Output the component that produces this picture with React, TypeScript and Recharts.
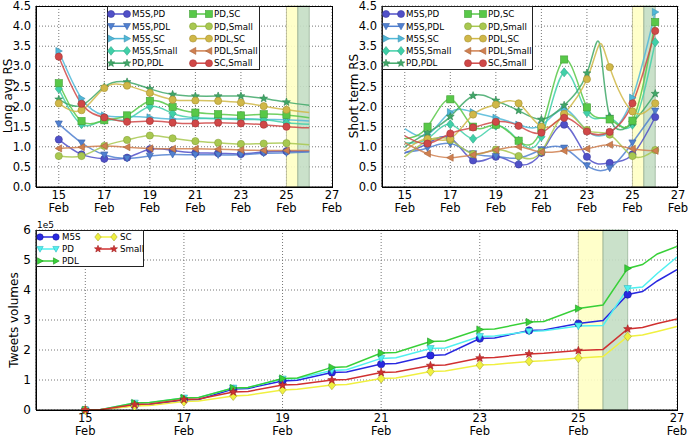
import React from "react";
import { LineChart, Line, XAxis, YAxis, ReferenceArea, CartesianGrid } from "recharts";

// days shown on the two upper panels
const days = [15, 16, 17, 18, 19, 20, 21, 22, 23, 24, 25, 26];
const dayTicks = [15, 17, 19, 21, 23, 25, 27];
const rsTicks = [0, 0.5, 1, 1.5, 2, 2.5, 3, 3.5, 4, 4.5];
const volTicks = [0, 1, 2, 3, 4, 5, 6];

// Long avg RS
const longM5sPd = [1.18, 0.81, 0.7, 0.73, 0.94, 0.91, 0.85, 0.84, 0.82, 0.87, 0.89, 0.89];
const longM5sPdl = [1.57, 1.1, 0.8, 0.71, 0.77, 0.81, 0.8, 0.8, 0.8, 0.84, 0.85, 0.87];
const longM5sSc = [3.38, 2.2, 1.78, 1.75, 1.73, 1.69, 1.7, 1.7, 1.7, 1.68, 1.67, 1.64];
const longM5sSmall = [2.44, 1.56, 1.66, 1.68, 2.0, 1.83, 1.72, 1.7, 1.68, 1.67, 1.6, 1.56];
const longPdPdl = [2.18, 2.03, 2.49, 2.61, 2.44, 2.3, 2.26, 2.26, 2.26, 2.2, 2.11, 2.03];
const longPdSc = [2.58, 1.64, 1.66, 1.78, 2.14, 1.99, 1.85, 1.81, 1.78, 1.81, 1.79, 1.72];
const longPdSmall = [0.77, 0.77, 1.02, 1.17, 1.28, 1.21, 1.14, 1.1, 1.07, 1.08, 1.09, 1.05];
const longPdlSc = [2.08, 1.91, 2.46, 2.52, 2.34, 2.17, 2.15, 2.14, 2.1, 2.01, 1.92, 1.85];
const longPdlSmall = [0.96, 0.99, 1.02, 0.99, 0.96, 0.95, 0.95, 0.94, 0.92, 0.91, 0.91, 0.91];
const longScSmall = [3.24, 2.07, 1.73, 1.62, 1.64, 1.6, 1.58, 1.6, 1.58, 1.55, 1.5, 1.47];

// Short term RS
const shortM5sPd = [0.85, 1.08, 1.22, 0.66, 0.75, 0.56, 0.85, 1.55, 0.75, 0.6, 0.81, 1.74];
const shortM5sPdl = [0.85, 0.97, 1.08, 0.83, 0.76, 0.72, 0.93, 0.97, 0.53, 0.47, 1.1, 1.89];
const shortM5sSc = [1.45, 1.3, 1.86, 1.86, 1.72, 1.55, 1.53, 1.93, 1.4, 1.35, 2.22, 4.35];
const shortM5sSmall = [1.1, 1.2, 1.56, 1.2, 1.52, 1.15, 1.25, 2.85, 1.85, 1.72, 1.55, 3.6];
const shortPdPdl = [1.0, 1.35, 1.75, 2.27, 2.15, 1.9, 1.68, 2.03, 2.83, 1.75, 1.6, 2.32];
const shortPdSc = [1.2, 1.5, 2.18, 1.5, 1.55, 1.15, 1.45, 3.17, 1.98, 1.68, 1.65, 4.1];
const shortPdSmall = [0.75, 1.15, 1.17, 0.82, 0.93, 0.77, 0.88, 1.8, 1.42, 1.3, 0.77, 0.92];
const shortPdlSc = [0.9, 1.2, 1.2, 1.8, 2.05, 2.08, 1.5, 1.82, 2.68, 2.98, 1.88, 2.08];
const shortPdlSmall = [1.1, 0.83, 0.73, 0.8, 0.92, 1.0, 0.87, 0.9, 0.95, 1.05, 0.95, 0.9];
const shortScSmall = [1.27, 1.08, 1.33, 1.48, 1.62, 1.52, 1.35, 1.72, 1.38, 1.37, 2.08, 3.88];
// peak between the 23 and 24 points
const shortPeakDay = 23.55;
const shortPeakPdPdl = 3.57;
const shortPeakPdlSc = 3.55;

// Tweets volumes (x1e5), read at each day and where the curve starts to climb
const volDays = [15, 15.3, 16, 16.3, 17, 17.3, 18, 18.3, 19, 19.3, 20, 20.3, 21, 21.3, 22, 22.3, 23, 23.3, 24, 24.3, 25, 25.5, 26, 26.3, 26.6, 27];
const volM5s = [0, 0.01, 0.15, 0.17, 0.33, 0.35, 0.7, 0.72, 0.97, 0.99, 1.25, 1.27, 1.53, 1.55, 1.82, 1.84, 2.38, 2.4, 2.65, 2.67, 2.88, 2.98, 3.85, 3.95, 4.3, 4.68];
const volPd = [0, 0.01, 0.23, 0.24, 0.4, 0.42, 0.73, 0.75, 1.03, 1.05, 1.32, 1.34, 1.72, 1.74, 2.05, 2.07, 2.45, 2.47, 2.62, 2.64, 2.8, 2.82, 4.05, 4.1, 4.55, 5.1];
const volPdl = [0, 0.01, 0.23, 0.25, 0.4, 0.42, 0.73, 0.75, 1.05, 1.07, 1.42, 1.44, 1.9, 1.92, 2.28, 2.3, 2.68, 2.7, 2.93, 2.95, 3.38, 3.5, 4.72, 4.85, 5.2, 5.45];
const volSc = [0, 0.01, 0.13, 0.15, 0.28, 0.3, 0.47, 0.49, 0.67, 0.69, 0.83, 0.85, 1.05, 1.07, 1.28, 1.3, 1.5, 1.52, 1.62, 1.64, 1.73, 1.78, 2.45, 2.5, 2.62, 2.78];
const volSmall = [0, 0.01, 0.18, 0.2, 0.35, 0.37, 0.6, 0.62, 0.83, 0.85, 1.0, 1.02, 1.25, 1.27, 1.48, 1.5, 1.73, 1.75, 1.87, 1.89, 1.98, 2.02, 2.7, 2.75, 2.88, 3.03];

const FONT = "DejaVu Sans, Bitstream Vera Sans, sans-serif";

type Shape = "circle" | "tdown" | "tright" | "tleft" | "diamond" | "star" | "square";
type Series = { key: string; name: string; values: number[]; color: string; edge: string; marker: Shape };

const longSeries: Series[] = [
  { key: "a", name: "M5S,PD", values: longM5sPd, color: "#5050c8", edge: "#3a3aa0", marker: "circle" },
  { key: "b", name: "M5S,PDL", values: longM5sPdl, color: "#5080d0", edge: "#3a62a8", marker: "tdown" },
  { key: "c", name: "M5S,SC", values: longM5sSc, color: "#50b8d8", edge: "#3a90b0", marker: "tright" },
  { key: "d", name: "M5S,Small", values: longM5sSmall, color: "#40d0a8", edge: "#30a888", marker: "diamond" },
  { key: "e", name: "PD,PDL", values: longPdPdl, color: "#40a868", edge: "#2f8550", marker: "star" },
  { key: "f", name: "PD,SC", values: longPdSc, color: "#58c848", edge: "#44a038", marker: "square" },
  { key: "g", name: "PD,Small", values: longPdSmall, color: "#a8c850", edge: "#88a43c", marker: "circle" },
  { key: "h", name: "PDL,SC", values: longPdlSc, color: "#d0b848", edge: "#a89236", marker: "circle" },
  { key: "i", name: "PDL,Small", values: longPdlSmall, color: "#d08050", edge: "#a8643c", marker: "tleft" },
  { key: "j", name: "SC,Small", values: longScSmall, color: "#d04848", edge: "#a83636", marker: "circle" },
];

const shortValues = [shortM5sPd, shortM5sPdl, shortM5sSc, shortM5sSmall, shortPdPdl, shortPdSc, shortPdSmall, shortPdlSc, shortPdlSmall, shortScSmall];
const shortSeries: Series[] = longSeries.map((s, i) => ({ ...s, values: shortValues[i] }));

const volSeries: Series[] = [
  { key: "m", name: "M5S", values: volM5s, color: "#2828e0", edge: "#1818a0", marker: "circle" },
  { key: "p", name: "PD", values: volPd, color: "#50f0f0", edge: "#30b8c0", marker: "tdown" },
  { key: "l", name: "PDL", values: volPdl, color: "#38d038", edge: "#209820", marker: "tright" },
  { key: "s", name: "SC", values: volSc, color: "#f0f040", edge: "#a8a830", marker: "diamond" },
  { key: "r", name: "Small", values: volSmall, color: "#d03030", edge: "#a02020", marker: "star" },
];

const longRows = days.map((d, i) => {
  const row: any = { day: d };
  longSeries.forEach((s) => (row[s.key] = s.values[i]));
  return row;
});

const shortRows = days.map((d, i) => {
  const row: any = { day: d };
  shortSeries.forEach((s) => (row[s.key] = s.values[i]));
  return row;
});
shortRows.splice(9, 0, { day: shortPeakDay, e: shortPeakPdPdl, h: shortPeakPdlSc });

const volRows = volDays.map((d, i) => {
  const row: any = { day: d };
  volSeries.forEach((s) => (row[s.key] = s.values[i]));
  return row;
});

function markerPath(shape: Shape, cx: number, cy: number, r: number, fill: string, edge: string) {
  const common = { fill, stroke: edge, strokeWidth: 0.6 };
  switch (shape) {
    case "circle":
      return <circle cx={cx} cy={cy} r={r} {...common} />;
    case "square":
      return <rect x={cx - r} y={cy - r} width={2 * r} height={2 * r} {...common} />;
    case "tdown":
      return <polygon points={`${cx - r},${cy - r * 0.8} ${cx + r},${cy - r * 0.8} ${cx},${cy + r}`} {...common} />;
    case "tright":
      return <polygon points={`${cx - r * 0.8},${cy - r} ${cx - r * 0.8},${cy + r} ${cx + r},${cy}`} {...common} />;
    case "tleft":
      return <polygon points={`${cx + r * 0.8},${cy - r} ${cx + r * 0.8},${cy + r} ${cx - r},${cy}`} {...common} />;
    case "diamond":
      return <polygon points={`${cx},${cy - r * 1.25} ${cx + r},${cy} ${cx},${cy + r * 1.25} ${cx - r},${cy}`} {...common} />;
    case "star": {
      const pts: string[] = [];
      for (let k = 0; k < 10; k++) {
        const rad = k % 2 === 0 ? r * 1.15 : r * 0.48;
        const a = -Math.PI / 2 + (k * Math.PI) / 5;
        pts.push(`${cx + rad * Math.cos(a)},${cy + rad * Math.sin(a)}`);
      }
      return <polygon points={pts.join(" ")} {...common} />;
    }
  }
}

const makeDot = (s: Series, r: number, skip: (d: number) => boolean) => (p: any) => {
  const d = p.payload?.day;
  if (p.cx == null || p.cy == null || p.value == null || !Number.isInteger(d) || skip(d)) return <g key={p.key} />;
  return <g key={p.key}>{markerPath(s.marker, p.cx, p.cy, r, s.color, s.edge)}</g>;
};

const FebTick = ({ x, y, payload, size }: any) => (
  <text x={x} y={y} textAnchor="middle" fontSize={size} fontFamily={FONT} fill="#000">
    <tspan x={x} dy={12}>{payload.value}</tspan>
    <tspan x={x} dy={13}>Feb</tspan>
  </text>
);

function LegendBox({ left, top, width, height, items, rows, cols, rowY, lineLen, textGap, fontSize, r }: any) {
  return (
    <svg style={{ position: "absolute", left, top }} width={width} height={height}>
      <rect x={0.5} y={0.5} width={width - 1} height={height - 1} fill="#fff" stroke="#222" strokeWidth={1} />
      {items.map((s: Series, i: number) => {
        const c = Math.floor(i / rows);
        const y = rowY[i % rows];
        const x0 = cols[c];
        const x1 = x0 + lineLen;
        return (
          <g key={s.key}>
            <line x1={x0} x2={x1} y1={y} y2={y} stroke={s.color} strokeWidth={1.5} />
            {markerPath(s.marker, x0, y, r, s.color, s.edge)}
            {markerPath(s.marker, x1, y, r, s.color, s.edge)}
            <text x={x1 + textGap} y={y + 3.2} fontSize={fontSize} fontFamily={FONT} fill="#000">
              {s.name}
            </text>
          </g>
        );
      })}
    </svg>
  );
}

const YLabel = ({ x, y, text }: any) => (
  <div
    style={{
      position: "absolute",
      left: x,
      top: y,
      transform: "translate(-50%, -50%) rotate(-90deg)",
      whiteSpace: "nowrap",
      fontSize: 12,
      fontFamily: FONT,
      color: "#000",
    }}
  >
    {text}
  </div>
);

// dotted grid like matplotlib's "k:" grid
const GRID = { stroke: "#777", strokeDasharray: "1 2" };

function RSChart({ rows, series, skip }: { rows: any[]; series: Series[]; skip: (d: number) => boolean }) {
  return (
    <LineChart width={345} height={220} data={rows} margin={{ top: 6, right: 13, bottom: 5, left: 0 }}>
      <CartesianGrid {...GRID} />
      <ReferenceArea x1={25} x2={25.5} y1={0} y2={4.5} fill="#ffffc4" fillOpacity={0.9} stroke="#b8b890" strokeWidth={0.8} />
      <ReferenceArea x1={25.5} x2={26} y1={0} y2={4.5} fill="#c4dec4" fillOpacity={0.9} stroke="#98b498" strokeWidth={0.8} />
      <XAxis
        dataKey="day"
        type="number"
        domain={[14, 27]}
        ticks={dayTicks}
        allowDataOverflow
        axisLine={{ stroke: "#000" }}
        tickLine={false}
        tickSize={0}
        tickMargin={0}
        height={28}
        interval={0}
        tick={<FebTick size={11.5} />}
      />
      <YAxis
        type="number"
        domain={[0, 4.5]}
        ticks={rsTicks}
        tickFormatter={(v: number) => v.toFixed(1)}
        axisLine={{ stroke: "#000" }}
        tickLine={false}
        tickSize={0}
        tickMargin={5}
        width={36}
        interval={0}
        tick={{ fontSize: 11.5, fontFamily: FONT, fill: "#000" }}
      />
      {series.map((s) => (
        <Line
          key={s.key}
          dataKey={s.key}
          type="natural"
          stroke={s.color}
          strokeWidth={1.5}
          strokeOpacity={0.85}
          connectNulls
          dot={makeDot(s, 3.6, skip)}
          activeDot={false}
          isAnimationActive={false}
        />
      ))}
    </LineChart>
  );
}

// top/right edges of the axes frame
const Frame = ({ left, top, width, height }: any) => (
  <div style={{ position: "absolute", left, top, width, height, border: "1px solid #000", boxSizing: "border-box", pointerEvents: "none" }} />
);

export default function App() {
  const rowsY = [8, 20.3, 32.6, 44.9, 57.2];
  return (
    <div style={{ position: "absolute", left: 0, top: 0, width: 689, height: 438, background: "#fff", overflow: "hidden" }}>
      <div style={{ position: "absolute", left: 0, top: 0 }}>
        <RSChart rows={longRows} series={longSeries} skip={(d) => d === 26} />
      </div>
      <div style={{ position: "absolute", left: 346, top: 0 }}>
        <RSChart rows={shortRows} series={shortSeries} skip={(d) => d === 15} />
      </div>
      <div style={{ position: "absolute", left: 0, top: 222 }}>
        <LineChart width={689} height={216} data={volRows} margin={{ top: 8, right: 12, bottom: 0, left: 0 }}>
          <CartesianGrid {...GRID} />
          <ReferenceArea x1={25} x2={25.5} y1={0} y2={6} fill="#ffffc4" fillOpacity={0.9} stroke="#b8b890" strokeWidth={0.8} />
          <ReferenceArea x1={25.5} x2={26} y1={0} y2={6} fill="#c4dec4" fillOpacity={0.9} stroke="#98b498" strokeWidth={0.8} />
          <XAxis
            dataKey="day"
            type="number"
            domain={[14, 27]}
            ticks={dayTicks}
            allowDataOverflow
            axisLine={{ stroke: "#000" }}
            tickLine={false}
            tickSize={0}
            tickMargin={0}
            height={28}
            interval={0}
            tick={<FebTick size={11.5} />}
          />
          <YAxis
            type="number"
            domain={[0, 6]}
            ticks={volTicks}
            axisLine={{ stroke: "#000" }}
            tickLine={false}
            tickSize={0}
            tickMargin={5}
            width={36}
            interval={0}
            tick={{ fontSize: 12, fontFamily: FONT, fill: "#000" }}
          />
          {volSeries.map((s) => (
            <Line
              key={s.key}
              dataKey={s.key}
              type="linear"
              stroke={s.color}
              strokeWidth={1.5}
              dot={makeDot(s, 3.7, (d) => d === 27)}
              activeDot={false}
              isAnimationActive={false}
            />
          ))}
        </LineChart>
      </div>
      <Frame left={36} top={6} width={297} height={182} />
      <Frame left={382} top={6} width={296} height={182} />
      <Frame left={36} top={230} width={642} height={181} />
      <YLabel x={8} y={96} text="Long avg RS" />
      <YLabel x={354} y={96} text="Short term RS" />
      <YLabel x={14} y={320} text="Tweets volumes" />
      <div style={{ position: "absolute", left: 37, top: 220, fontSize: 9, fontFamily: FONT }}>1e5</div>
      <LegendBox left={107} top={6} width={153} height={64} items={longSeries} rows={5} cols={[4, 86]} rowY={rowsY} lineLen={16} textGap={5} fontSize={8.7} r={3.5} />
      <LegendBox left={382} top={6} width={151} height={64} items={shortSeries} rows={5} cols={[4, 86]} rowY={rowsY} lineLen={15} textGap={5} fontSize={8.7} r={3.5} />
      <LegendBox left={36} top={230} width={108} height={37} items={volSeries} rows={3} cols={[4, 62]} rowY={[7, 19, 31]} lineLen={16} textGap={6} fontSize={8.7} r={3.2} />
    </div>
  );
}
